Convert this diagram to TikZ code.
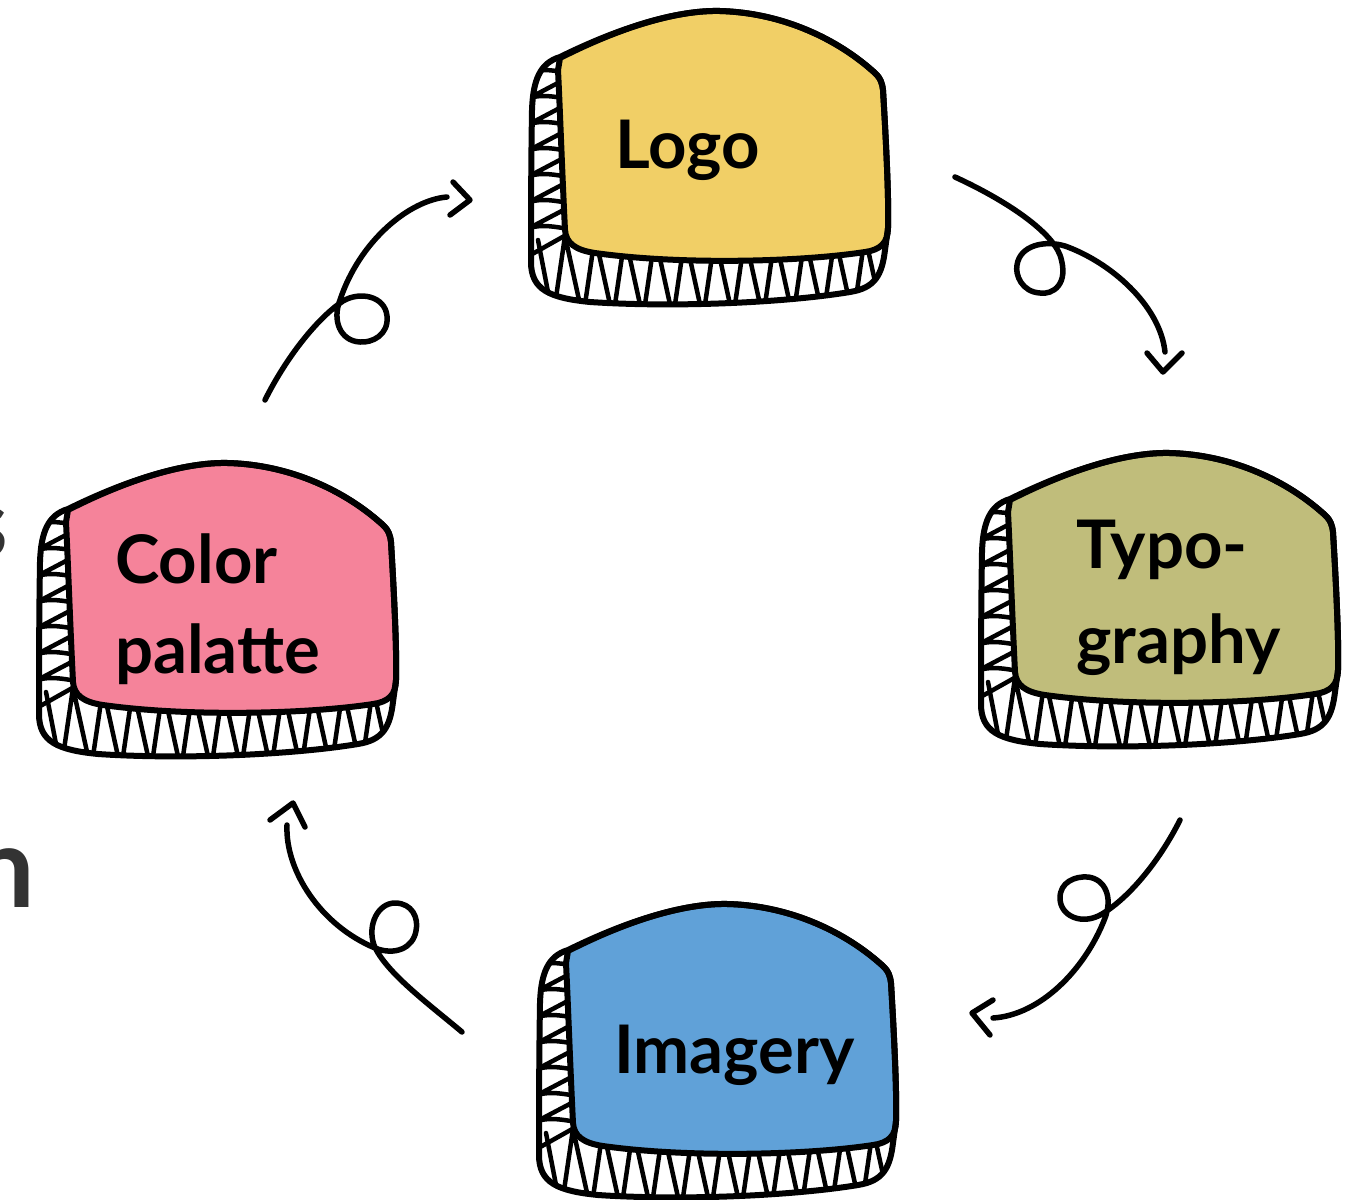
\documentclass[tikz,border=0pt]{standalone}
\usepackage{fontspec}
\setmainfont{Lato}
\definecolor{logoyellow}{HTML}{F1CF66}
\definecolor{typoolive}{HTML}{C0BD7B}
\definecolor{colorpink}{HTML}{F5839A}
\definecolor{imageblue}{HTML}{60A1D8}
\definecolor{fraggray}{HTML}{333333}
\def\frontpath{(560,58) .. controls (625,25) and (680,10) .. (720,11) .. controls (790,13) and (845,45) .. (876,74) .. controls (880,78) and (882,82) .. (883,90) .. controls (886,140) and (889,200) .. (888,228) .. controls (888,243) and (880,250) .. (865,252) .. controls (800,262) and (680,265) .. (595,253) .. controls (575,250) and (566,243) .. (565,230) .. controls (562,170) and (560,110) .. (558,70) -- cycle}
\def\silhpath{(560,57) .. controls (540,63) and (533,80) .. (532,110) .. controls (531,170) and (531,230) .. (531,262) .. controls (531,290) and (550,298) .. (590,302) .. controls (680,308) and (790,302) .. (850,292) .. controls (875,288) and (882,275) .. (885,250) -- (888,228) .. controls (889,200) and (886,140) .. (883,90) .. controls (882,82) and (880,78) .. (876,74) .. controls (845,45) and (790,13) .. (720,11) .. controls (680,10) and (625,25) .. (560,57) -- cycle}
\tikzset{
  outline/.style={line width=6pt, line join=round, line cap=round},
  hatch/.style={line width=4.5pt, line join=round, line cap=round},
  arrowline/.style={line width=5.5pt, line cap=round, line join=round},
  boxtext/.style={font=\fontsize{67}{95}\selectfont\bfseries, inner sep=0pt, align=left, anchor=base west},
  fragtext/.style={text=fraggray, inner sep=0pt, anchor=base east},
  pics/brandbox/.style={code={
    \fill[white] \silhpath;
    \begin{scope}
      \clip \silhpath;
      \draw[hatch] (575,48) \foreach \k in {0,...,6}{ -- (518,{78+26*\k}) .. controls (535,{66+26*\k}) and (550,{70+26*\k}) .. (575,{74+26*\k}) } -- (518,262);
      \draw[hatch] (538,240) \foreach \k in {0,...,11}{ -- ({553+30*\k},318) -- ({565+30*\k},236) };
    \end{scope}
    \fill[#1] \frontpath;
    \draw[outline] \frontpath;
    \draw[outline] \silhpath;
  }}
}
\begin{document}
\begin{tikzpicture}[x=1pt,y=-1pt]
\clip (0,0) rectangle (1345,1200);
\useasboundingbox (0,0) rectangle (1345,1200);
\fill[white] (0,0) rectangle (1345,1200);

% boxes
\pic (logobox) at (0,0) {brandbox=logoyellow};
\pic (typobox) at (450,442) {brandbox=typoolive};
\pic (imagebox) at (8,893) {brandbox=imageblue};
\pic (colorbox) at (-492,452) {brandbox=colorpink};

% labels (multi-line nodes are anchored at the baseline of their last line)
\node[boxtext] (logo) at (615,168) {Logo};
\node[boxtext] (typo) at (1076,663) {Typo-\\graphy};
\node[boxtext] (color) at (115,673) {Color\\[-5pt]palatte};
\node[boxtext] (imagery) at (614,1073) {Imagery};

% cut-off fragments at the left edge
\node[fragtext, font=\fontsize{97}{97}\selectfont\bfseries] (frags) at (8,557) {s};
\node[fragtext, font=\fontsize{113}{113}\selectfont\bfseries] (fragn) at (35,907) {n};

% arrow 1: Logo -> Typography
\coordinate (a1s) at (955,177);
\coordinate (a1e) at (1165,352);
\coordinate (a1t) at (1163,372);
\draw[arrowline] (a1s) .. controls (1005,200) and (1050,230) .. (1060,255) .. controls (1070,285) and (1052,295) .. (1040,293) .. controls (1022,292) and (1015,275) .. (1017,265) .. controls (1020,245) and (1045,240) .. (1065,246) .. controls (1110,262) and (1160,305) .. (a1e);
\draw[arrowline] (1147,353) -- (a1t) -- (1182,353);

% arrow 2: Typography -> Imagery
\coordinate (a2s) at (1180,820);
\coordinate (a2e) at (993,1018);
\coordinate (a2t) at (972,1013);
\draw[arrowline] (a2s) .. controls (1160,860) and (1130,897) .. (1102,914) .. controls (1082,926) and (1060,916) .. (1060,898) .. controls (1060,882) and (1075,876) .. (1088,877) .. controls (1105,879) and (1113,897) .. (1105,918) .. controls (1085,970) and (1040,1015) .. (a2e);
\draw[arrowline] (993,1000) -- (a2t) -- (990,1035);

% arrow 3: Imagery -> Color palette
\coordinate (a3s) at (462,1032);
\coordinate (a3e) at (287,825);
\coordinate (a3t) at (293,803);
\draw[arrowline] (a3s) .. controls (430,1005) and (385,972) .. (374,945) .. controls (367,925) and (378,903) .. (395,903) .. controls (412,903) and (419,918) .. (416,931) .. controls (413,948) and (395,956) .. (375,948) .. controls (320,925) and (285,870) .. (a3e);
\draw[arrowline] (270,820) -- (a3t) -- (305,827);

% arrow 4: Color palette -> Logo
\coordinate (a4s) at (265,400);
\coordinate (a4e) at (447,197);
\coordinate (a4t) at (470,200);
\draw[arrowline] (a4s) .. controls (285,360) and (315,320) .. (343,301) .. controls (360,291) and (385,296) .. (387,316) .. controls (389,335) and (372,343) .. (360,342) .. controls (340,341) and (332,320) .. (340,300) .. controls (360,240) and (410,200) .. (a4e);
\draw[arrowline] (453,182) -- (a4t) -- (450,215);
\end{tikzpicture}
\end{document}
